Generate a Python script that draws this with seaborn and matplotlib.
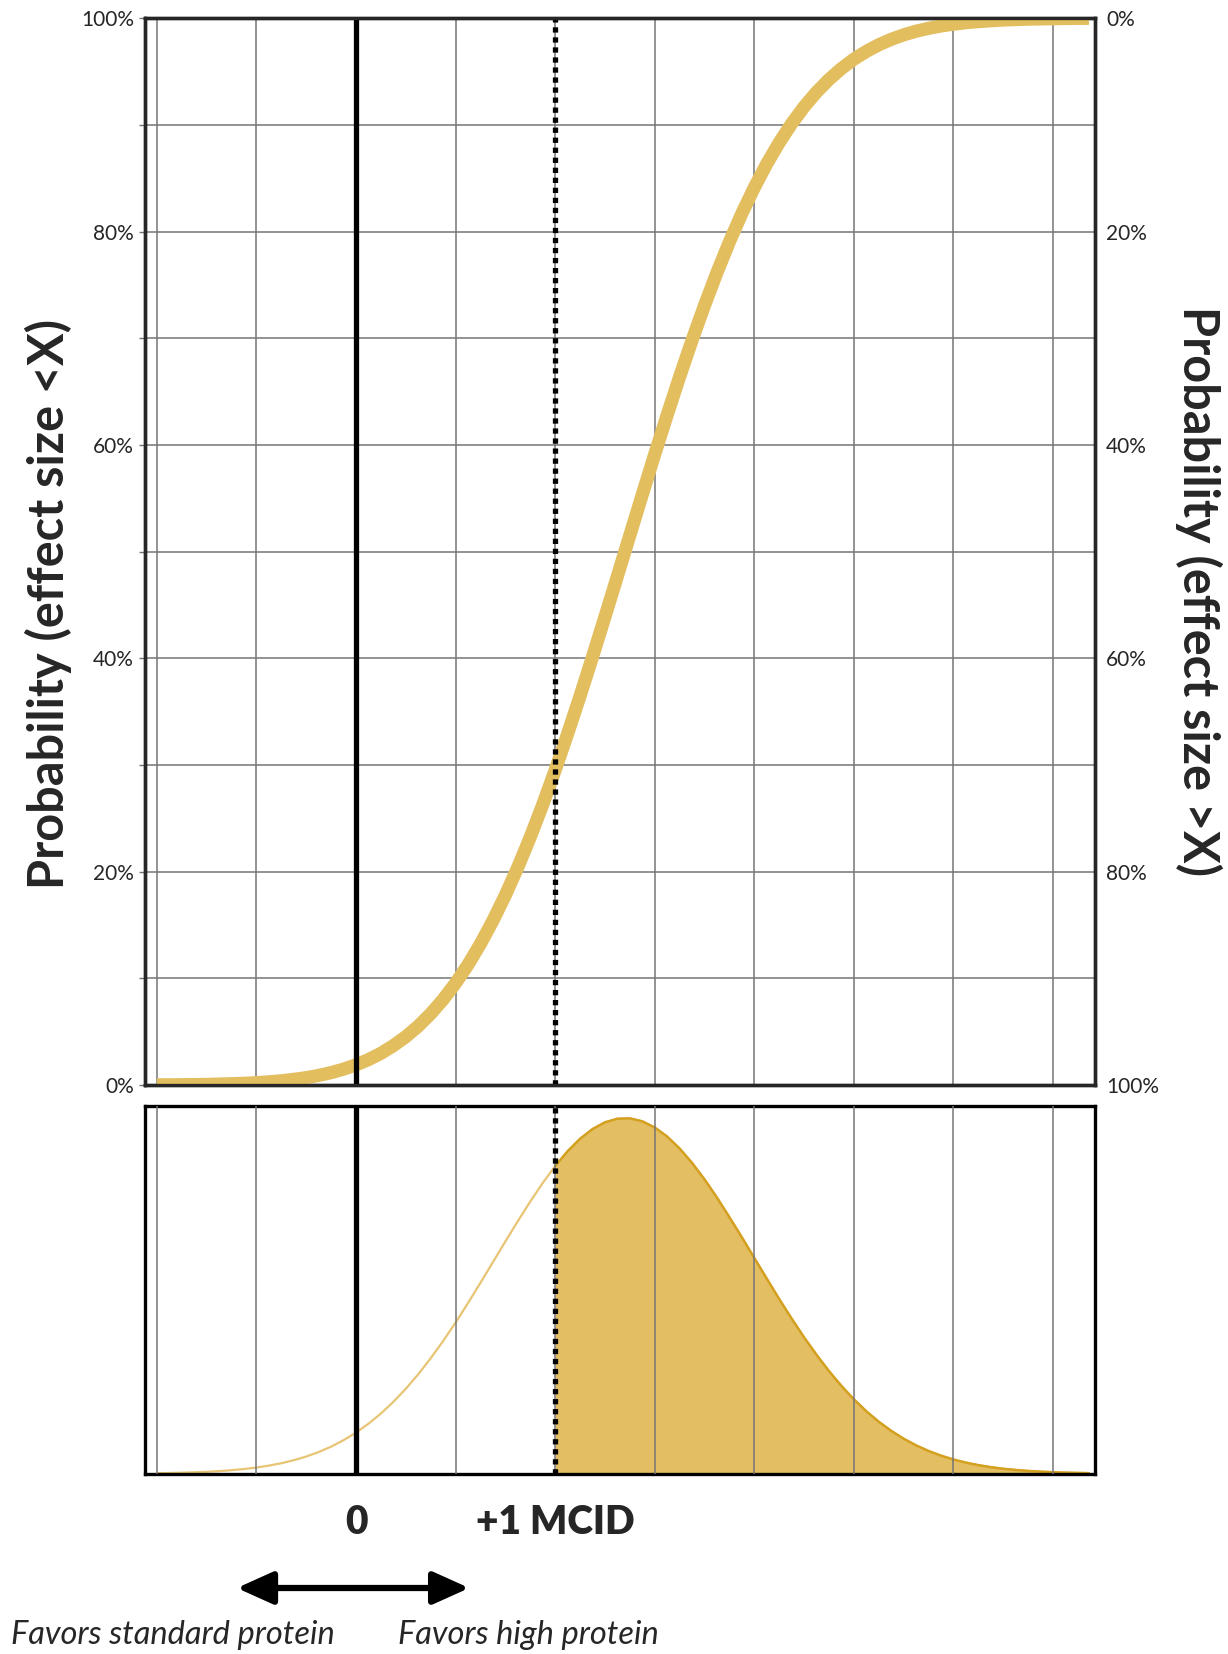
import numpy as np
import pandas as pd
import seaborn as sns
import matplotlib.pyplot as plt
from matplotlib.patches import FancyArrowPatch

# ------------------------------
# Data (effect size in MCID units)
# ------------------------------
effect = [-1.0, -0.9375, -0.875, -0.8125, -0.75, -0.6875, -0.625, -0.5625,
          -0.5, -0.4375, -0.375, -0.3125, -0.25, -0.1875, -0.125, -0.0625,
          0.0, 0.0625, 0.125, 0.1875, 0.25, 0.3125, 0.375, 0.4375,
          0.5, 0.5625, 0.625, 0.6875, 0.75, 0.8125, 0.875, 0.9375,
          1.0, 1.0625, 1.125, 1.1875, 1.25, 1.3125, 1.375, 1.4375,
          1.5, 1.5625, 1.625, 1.6875, 1.75, 1.8125, 1.875, 1.9375,
          2.0, 2.0625, 2.125, 2.1875, 2.25, 2.3125, 2.375, 2.4375,
          2.5, 2.5625, 2.625, 2.6875, 2.75, 2.8125, 2.875, 2.9375,
          3.0, 3.0625, 3.125, 3.1875, 3.25, 3.3125, 3.375, 3.4375,
          3.5, 3.5625, 3.625, 3.68]

# cumulative probability, P(effect size < X)
cum_prob = [0.0002, 0.0002, 0.0003, 0.0004, 0.0006, 0.0009, 0.0012, 0.0016,
            0.0022, 0.0030, 0.0040, 0.0053, 0.0069, 0.0090, 0.0116, 0.0149,
            0.0189, 0.0238, 0.0297, 0.0369, 0.0453, 0.0552, 0.0668, 0.0802,
            0.0955, 0.1128, 0.1324, 0.1541, 0.1780, 0.2041, 0.2324, 0.2628,
            0.2951, 0.3292, 0.3646, 0.4013, 0.4389, 0.4770, 0.5153, 0.5535,
            0.5913, 0.6281, 0.6639, 0.6982, 0.7308, 0.7616, 0.7904, 0.8170,
            0.8413, 0.8635, 0.8834, 0.9012, 0.9170, 0.9307, 0.9426, 0.9528,
            0.9616, 0.9689, 0.9751, 0.9802, 0.9844, 0.9878, 0.9905, 0.9927,
            0.9944, 0.9958, 0.9968, 0.9976, 0.9983, 0.9987, 0.9991, 0.9993,
            0.9995, 0.9997, 0.9998, 0.9999]

# posterior density, scaled so the peak is 1
density = [0.0015, 0.0020, 0.0029, 0.0040, 0.0054, 0.0073, 0.0099, 0.0132,
           0.0174, 0.0228, 0.0295, 0.0380, 0.0483, 0.0610, 0.0762, 0.0943,
           0.1156, 0.1406, 0.1692, 0.2021, 0.2388, 0.2798, 0.3247, 0.3733,
           0.4252, 0.4800, 0.5371, 0.5951, 0.6531, 0.7103, 0.7655, 0.8176,
           0.8651, 0.9069, 0.9419, 0.9692, 0.9882, 0.9983, 0.9993, 0.9910,
           0.9737, 0.9480, 0.9144, 0.8739, 0.8276, 0.7764, 0.7212, 0.6647,
           0.6065, 0.5484, 0.4911, 0.4360, 0.3833, 0.3341, 0.2883, 0.2467,
           0.2090, 0.1755, 0.1460, 0.1204, 0.0983, 0.0796, 0.0638, 0.0507,
           0.0399, 0.0311, 0.0240, 0.0184, 0.0139, 0.0105, 0.0078, 0.0058,
           0.0042, 0.0030, 0.0022, 0.0016]

grid_x = [-1.0, -0.5, 0.0, 0.5, 1.0, 1.5, 2.0, 2.5, 3.0, 3.5]
x_labels = ["", "", "0", "", "+1 MCID", "", "", "", "", ""]
prob_ticks = [0.0, 0.2, 0.4, 0.6, 0.8, 1.0]
prob_minor = [0.1, 0.3, 0.5, 0.7, 0.9]
mcid = 1.0

df = pd.DataFrame({"effect": effect, "cum": cum_prob, "dens": density})

# ------------------------------
# Style
# ------------------------------
sns.set_style("white")
plt.rcParams['font.family'] = ['Lato', 'DejaVu Sans']

GOLD = "#E3BE5F"
GOLD_FILL = "#E2BB5B"
GOLD_EDGE = "#D4A020"
GOLD_LIGHT = "#E8C574"
GRID = "#757575"

fig = plt.figure(figsize=(12.28, 16.54), dpi=100)
ax_top = fig.add_axes([0.118, 0.344, 0.7736, 0.645])
ax_bot = fig.add_axes([0.118, 0.109, 0.7736, 0.2225])

xlim = (-1.06, 3.71)
dots = (0, (1, 0.9))

# ------------------------------
# Top panel: cumulative probability
# ------------------------------
sns.lineplot(data=df, x="effect", y="cum", ax=ax_top, color=GOLD,
             linewidth=9.5, solid_capstyle='butt', zorder=3)
ax_top.axvline(0, color='black', lw=3.8, zorder=4)
ax_top.axvline(mcid, color='black', lw=3.8, ls=dots, zorder=4)

ax_top.set_xlim(*xlim)
ax_top.set_ylim(0, 1)
ax_top.set_xticks(grid_x)
ax_top.set_xticklabels([])
ax_top.set_yticks(prob_ticks)
ax_top.set_yticklabels([f"{int(p * 100)}%" for p in prob_ticks], fontsize=15)
ax_top.set_yticks(prob_minor, minor=True)
ax_top.tick_params(axis='x', length=0)
ax_top.tick_params(axis='y', which='both', left=True, length=4, width=1,
                   color=GRID, pad=4)
ax_top.grid(True, axis='both', which='major', color=GRID, lw=1.1)
ax_top.grid(True, axis='y', which='minor', color=GRID, lw=1.1)
ax_top.set_xlabel("")
ax_top.set_ylabel("Probability (effect size <X)", fontsize=35, fontweight='bold')
ax_top.yaxis.set_label_coords(-0.077, 0.451)
for s in ax_top.spines.values():
    s.set_linewidth(2.4)
    s.set_color('black')

ax_r = ax_top.twinx()
ax_r.set_ylim(1, 0)
ax_r.set_yticks(prob_ticks)
ax_r.set_yticklabels([f"{int(p * 100)}%" for p in prob_ticks], fontsize=15)
ax_r.tick_params(axis='y', length=0, pad=8)
ax_r.set_ylabel("Probability (effect size >X)", fontsize=35, fontweight='bold',
                rotation=270)
ax_r.yaxis.set_label_coords(1.134, 0.463)
for s in ax_r.spines.values():
    s.set_linewidth(2.4)

# ------------------------------
# Bottom panel: density, shaded beyond +1 MCID
# ------------------------------
sns.lineplot(data=df, x="effect", y="dens", ax=ax_bot, color=GOLD_LIGHT,
             linewidth=1.6, zorder=2)
right = df[df["effect"] >= mcid]
ax_bot.fill_between(right["effect"], 0, right["dens"], color=GOLD_FILL,
                    alpha=0.95, lw=0, zorder=1)
sns.lineplot(data=right, x="effect", y="dens", ax=ax_bot, color=GOLD_EDGE,
             linewidth=1.8, zorder=2)
ax_bot.axvline(0, color='black', lw=3.8, zorder=4)
ax_bot.axvline(mcid, color='black', lw=3.8, ls=dots, zorder=4)

ax_bot.set_xlim(*xlim)
ax_bot.set_ylim(0, 1.035)
ax_bot.set_yticks([])
ax_bot.set_xticks(grid_x)
ax_bot.set_xticklabels(x_labels, fontsize=28, fontweight='heavy')
ax_bot.tick_params(axis='x', length=0, pad=22)
ax_bot.grid(True, axis='x', color=GRID, lw=1.1, zorder=1.5)
ax_bot.set_axisbelow(False)
ax_bot.set_xlabel("")
ax_bot.set_ylabel("")
for s in ax_bot.spines.values():
    s.set_linewidth(2.4)
    s.set_color('black')

# ------------------------------
# Direction arrow and captions
# ------------------------------
arrow = FancyArrowPatch((0.1906, 0.0399), (0.3844, 0.0399),
                        transform=fig.transFigure,
                        arrowstyle='<|-|>,head_length=1.0,head_width=0.45',
                        mutation_scale=22, lw=4.5, color='black')
fig.patches.append(arrow)

fig.text(0.009, 0.0115, "Favors standard protein", fontsize=23.5,
         style='italic', va='center', ha='left')
fig.text(0.324, 0.0115, "Favors high protein", fontsize=23.5,
         style='italic', va='center', ha='left')

fig.savefig("out.png", dpi=100)
